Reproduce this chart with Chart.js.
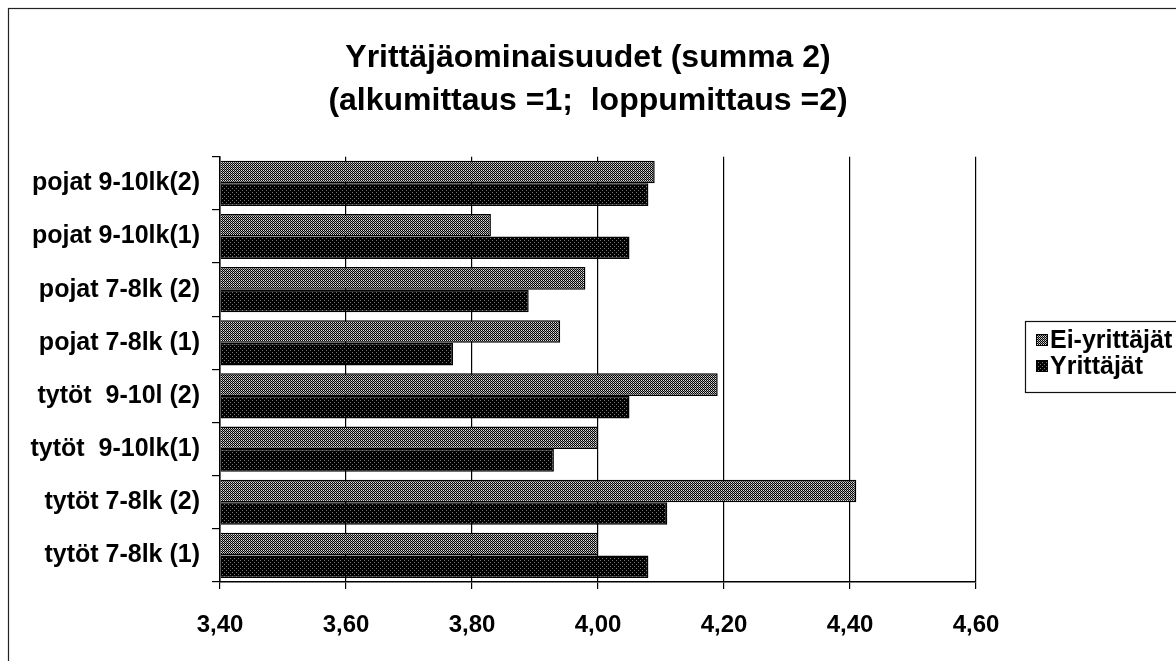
<!DOCTYPE html>
<html>
<head>
<meta charset="utf-8">
<title>Yrittäjäominaisuudet</title>
<script src="https://cdn.jsdelivr.net/npm/chart.js@4/dist/chart.umd.min.js"></script>
<style>
  html, body { margin: 0; padding: 0; background: #fff; }
  canvas { display: block; }
</style>
</head>
<body>
<canvas id="chart" width="1176" height="661"></canvas>
<script>
const categories = [
    'pojat 9-10lk(2)',
    'pojat 9-10lk(1)',
    'pojat 7-8lk (2)',
    'pojat 7-8lk (1)',
    'tytöt  9-10l (2)',
    'tytöt  9-10lk(1)',
    'tytöt 7-8lk (2)',
    'tytöt 7-8lk (1)'
];
const eiYrittajat = [4.09, 3.83, 3.98, 3.94, 4.19, 4.00, 4.41, 4.00];
const yrittajat = [4.08, 4.05, 3.89, 3.77, 4.05, 3.93, 4.11, 4.08];
const seriesNames = ['Ei-yrittäjät', 'Yrittäjät'];
const titleLines = ['Yrittäjäominaisuudet (summa 2)', '(alkumittaus =1;  loppumittaus =2)'];
const xTickValues = [3.4, 3.6, 3.8, 4.0, 4.2, 4.4, 4.6];
const xTickLabels = ['3,40', '3,60', '3,80', '4,00', '4,20', '4,40', '4,60'];

const fontName = '"Liberation Sans", Arial, sans-serif';

// dithered fills like the old printout
function makePattern(dark) {
    const c = document.createElement('canvas');
    c.width = 4;
    c.height = 4;
    const g = c.getContext('2d');
    for (let y = 0; y < 4; y++) {
        for (let x = 0; x < 4; x++) {
            if (dark) {
                g.fillStyle = ((x === 0 && y === 0) || (x === 2 && y === 2)) ? '#777' : '#000';
            } else if ((x + y) % 2 === 0) {
                g.fillStyle = '#000';
            } else {
                g.fillStyle = (y % 2 === 0) ? '#ddd' : '#999';
            }
            g.fillRect(x, y, 1, 1);
        }
    }
    return document.getElementById('chart').getContext('2d').createPattern(c, 'repeat');
}

const lightFill = makePattern(false);
const darkFill = makePattern(true);
const fills = [lightFill, darkFill];

// frame around the chart and the legend at the right
const excelLegend = {
    id: 'excelLegend',
    beforeInit(chart) {
        Chart.layouts.addBox(chart, {
            position: 'right',
            weight: 100,
            fullSize: true,
            options: {},
            width: 0,
            height: 0,
            isHorizontal() { return false; },
            update(maxWidth, maxHeight) { this.width = 200; this.height = maxHeight; },
            getPadding() { return { top: 0, left: 0, right: 0, bottom: 0 }; },
            draw() {}
        });
    },
    beforeDraw(chart) {
        const ctx = chart.ctx;
        ctx.save();
        ctx.strokeStyle = '#222';
        ctx.lineWidth = 1.2;
        ctx.strokeRect(8.5, 8.5, 1300, 800);
        ctx.restore();
    },
    afterDraw(chart) {
        const ctx = chart.ctx;
        ctx.save();
        ctx.strokeStyle = '#111';
        ctx.lineWidth = 1.2;
        ctx.strokeRect(1025.5, 321.5, 300, 71);
        ctx.font = 'bold 25px ' + fontName;
        ctx.textBaseline = 'middle';
        for (let i = 0; i < seriesNames.length; i++) {
            const y = 340 + i * 26;
            ctx.fillStyle = fills[i];
            ctx.fillRect(1036, y - 6, 12, 12);
            ctx.strokeStyle = '#000';
            ctx.lineWidth = 1;
            ctx.strokeRect(1036.5, y - 5.5, 11, 11);
            ctx.fillStyle = '#000';
            ctx.fillText(seriesNames[i], 1050, y + 1);
        }
        ctx.restore();
    }
};

new Chart(document.getElementById('chart'), {
    type: 'bar',
    data: {
        labels: categories,
        datasets: [{
            label: seriesNames[0],
            data: eiYrittajat,
            backgroundColor: lightFill,
            borderColor: '#000',
            borderWidth: 1.5,
            base: xTickValues[0]
        }, {
            label: seriesNames[1],
            data: yrittajat,
            backgroundColor: darkFill,
            borderColor: '#000',
            borderWidth: 1.5,
            base: xTickValues[0]
        }]
    },
    options: {
        indexAxis: 'y',
        responsive: false,
        animation: false,
        events: [],
        categoryPercentage: 0.85,
        barPercentage: 1.0,
        layout: { padding: 0 },
        plugins: {
            legend: { display: false },
            tooltip: { enabled: false },
            title: {
                display: true,
                text: titleLines,
                color: '#000',
                font: { family: fontName, size: 32, weight: 'bold', lineHeight: 1.34 },
                padding: { top: 37, bottom: 34 }
            }
        },
        scales: {
            x: {
                min: xTickValues[0],
                max: xTickValues[xTickValues.length - 1],
                afterBuildTicks(scale) {
                    scale.ticks = xTickValues.map(v => ({ value: v }));
                },
                afterFit(scale) {
                    scale.height = 79;
                },
                ticks: {
                    color: '#000',
                    font: { family: fontName, size: 24, weight: 'bold' },
                    padding: 22,
                    maxRotation: 0,
                    callback: (value, index) => xTickLabels[index]
                },
                grid: {
                    color: '#000',
                    lineWidth: 1.2,
                    tickLength: 7
                },
                border: { color: '#000', width: 1.5 }
            },
            y: {
                afterFit(scale) {
                    scale.width = 220;
                },
                ticks: {
                    color: '#000',
                    font: { family: fontName, size: 25, weight: 'bold' },
                    padding: 12
                },
                grid: {
                    offset: true,
                    drawOnChartArea: false,
                    color: '#000',
                    lineWidth: 1.2,
                    tickLength: 8
                },
                border: { color: '#000', width: 1.5 }
            }
        }
    },
    plugins: [excelLegend]
});
</script>
</body>
</html>
